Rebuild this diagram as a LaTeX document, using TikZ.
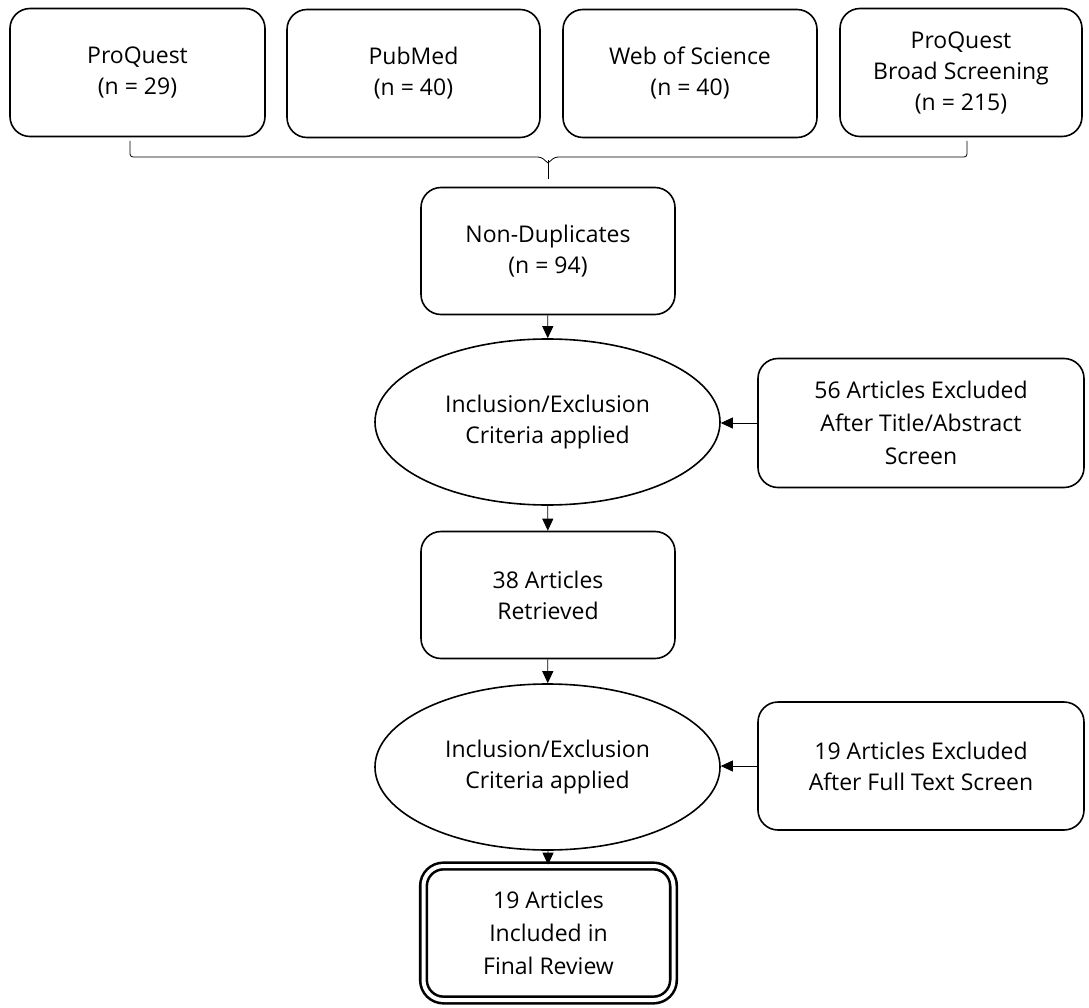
\documentclass[tikz,border=0pt]{standalone}
\usepackage{fontspec}
\setmainfont{Open Sans}
\usetikzlibrary{arrows.meta,shapes.geometric}
\begin{document}
\begin{tikzpicture}[x=1pt,y=-1pt,
	every node/.style={font=\fontsize{23}{31}\selectfont, align=center, inner sep=0pt},
	srcbox/.style={draw, line width=1.6pt, rounded corners=20pt, minimum height=128pt},
	stepbox/.style={draw, line width=1.6pt, rounded corners=20pt, minimum width=254pt, minimum height=127pt},
	sidebox/.style={draw, line width=1.6pt, rounded corners=20pt, minimum width=326pt, minimum height=129pt},
	crit/.style={draw, line width=1.6pt, ellipse, minimum width=345pt, minimum height=166pt},
	finalbox/.style={draw, double, double distance=4pt, line width=2.6pt, rounded corners=20pt, minimum width=250pt, minimum height=134pt},
	link/.style={line width=0.8pt, -{Triangle[length=12pt,width=11pt]}}]
	\useasboundingbox (0,0) rectangle (1089,1008);
	% databases
	\node [srcbox, minimum width=255pt] (proquest) at (137.5,72.5) {ProQuest\\(n = 29)};
	\node [srcbox, minimum width=253pt] (pubmed) at (413.5,73.5) {PubMed\\(n = 40)};
	\node [srcbox, minimum width=254pt] (wos) at (690,73.5) {Web of Science\\(n = 40)};
	\node [srcbox, minimum width=242pt] (broad) at (961,72.5) {ProQuest\\Broad Screening\\(n = 215)};
	% brace joining the searches
	\coordinate (bl) at (130,141);
	\coordinate (br) at (967,141);
	\coordinate (bc) at (548,179);
	\draw [line width=0.8pt, rounded corners=3pt] (bl) -- (130,157) -- (541,157) -- (548,163);
	\draw [line width=0.8pt, rounded corners=3pt] (br) -- (967,157) -- (555,157) -- (548,163);
	\draw [line width=0.8pt] (548,160) -- (bc);
	% screening steps
	\node [stepbox] (nondup) at (548,251) {Non-Duplicates\\(n = 94)};
	\node [crit] (crit1) at (547.5,422) {Inclusion/Exclusion\\Criteria applied};
	\node [sidebox, font=\fontsize{23}{33}\selectfont] (excl1) at (921,423) {56 Articles Excluded\\After Title/Abstract\\Screen};
	\node [stepbox] (retr) at (548,595) {38 Articles\\Retrieved};
	\node [crit] (crit2) at (547.5,767) {Inclusion/Exclusion\\Criteria applied};
	\node [sidebox, minimum height=128pt] (excl2) at (921,766) {19 Articles Excluded\\After Full Text Screen};
	\node [finalbox, font=\fontsize{23}{33}\selectfont] (final) at (548.5,933) {19 Articles\\Included in\\Final Review};
	% arrows
	\draw [link] (nondup) -- (crit1);
	\draw [link] (excl1) -- (crit1.east |- excl1.west);
	\draw [link] (crit1) -- (retr);
	\draw [link] (retr) -- (crit2);
	\draw [link] (excl2) -- (crit2.east |- excl2.west);
	\draw [link] (crit2) -- (final);
\end{tikzpicture}
\end{document}
